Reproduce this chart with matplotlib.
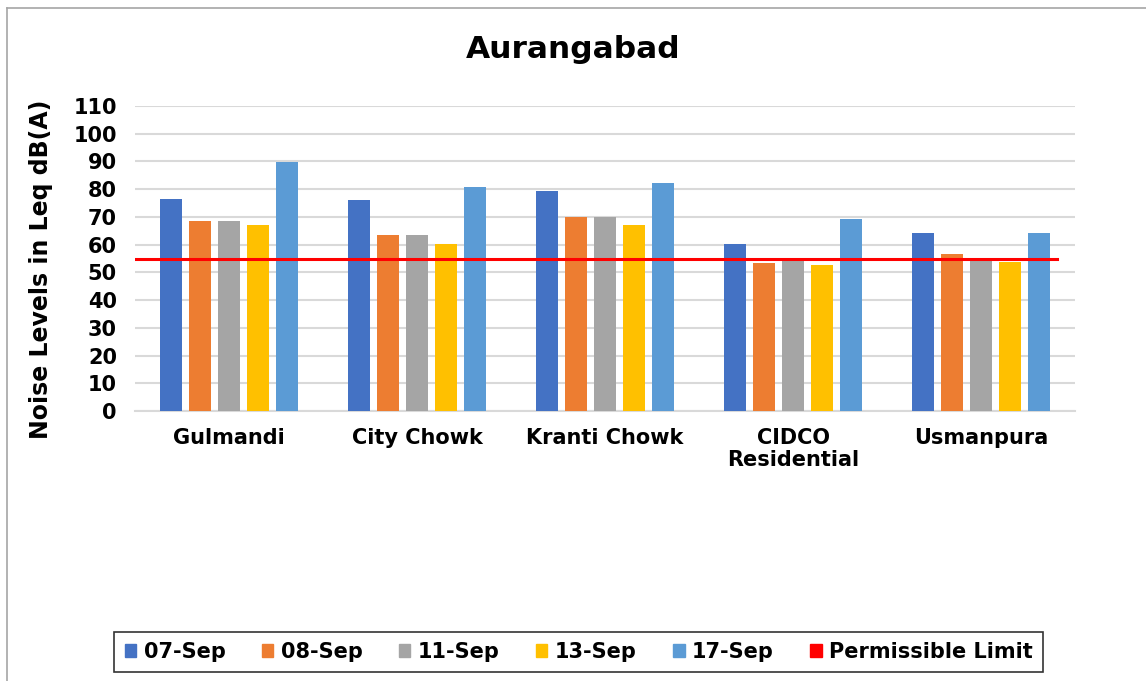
import matplotlib
matplotlib.use('Agg')
import matplotlib.pyplot as plt
from matplotlib.patches import Patch
from matplotlib.lines import Line2D
import numpy as np

locations = ['Gulmandi', 'City Chowk', 'Kranti Chowk', 'CIDCO\nResidential', 'Usmanpura']
dates = ['07-Sep', '08-Sep', '11-Sep', '13-Sep', '17-Sep']
values = {
    '07-Sep': [76.5, 76.0, 79.5, 60.1, 64.3],
    '08-Sep': [68.4, 63.6, 70.1, 53.5, 56.5],
    '11-Sep': [68.4, 63.6, 70.1, 55.0, 55.0],
    '13-Sep': [67.2, 60.4, 67.0, 52.6, 53.8],
    '17-Sep': [89.7, 80.9, 82.1, 69.3, 64.3],
}
limit = 55
colors = ['#4472C4', '#ED7D31', '#A5A5A5', '#FFC000', '#5B9BD5']

plt.rcParams['font.family'] = 'DejaVu Sans'
plt.rcParams['font.weight'] = 'bold'

fig = plt.figure(figsize=(11.46, 6.81), dpi=100)
ax = fig.add_axes([0.1178, 0.3965, 0.8203, 0.4478])

x = np.arange(len(locations))
w = 0.117
step = 0.154
for i, d in enumerate(dates):
    ax.bar(x + (i - 2) * step, values[d], width=w, color=colors[i],
           linewidth=0, zorder=3, label=d)

ax.axhline(limit, xmin=0, xmax=0.981, color='#FF0000', linewidth=2.2, zorder=4)

ax.set_xlim(-0.5, len(locations) - 0.5)
ax.set_ylim(0, 110)
ax.set_yticks(np.arange(0, 111, 10))
ax.yaxis.grid(True, color='#D9D9D9', linewidth=1.5, zorder=0)
for s in ['top', 'right', 'left']:
    ax.spines[s].set_visible(False)
ax.spines['bottom'].set_color('#D9D9D9')
ax.spines['bottom'].set_linewidth(1.5)
ax.tick_params(axis='both', length=0, labelsize=15)
ax.tick_params(axis='y', pad=13)
ax.tick_params(axis='x', pad=12)
ax.set_xticks(x)
ax.set_xticklabels(locations, fontweight='bold', linespacing=1.15)

fig.text(0.036, 0.604, 'Noise Levels in Leq dB(A)', rotation=90, ha='center', va='center',
         fontsize=17, fontweight='bold')
fig.text(0.5, 0.927, 'Aurangabad', ha='center', va='center', fontsize=22.5, fontweight='bold')

handles = [Patch(color=c) for c in colors] + [Patch(color='#FF0000')]
leg = fig.legend(handles, dates + ['Permissible Limit'], loc='center',
                 bbox_to_anchor=(0.505, 0.0425), ncol=6, fontsize=15,
                 frameon=True, fancybox=False, handlelength=0.55, handleheight=0.55,
                 handletextpad=0.35, columnspacing=1.75, borderpad=0.5)
leg.get_frame().set_edgecolor('black')
leg.get_frame().set_linewidth(1.2)

# outer chart border (top and left visible)
fig.add_artist(Line2D([0.0065, 0.0065], [0, 0.988], transform=fig.transFigure,
                      color='#A6A6A6', linewidth=1.2))
fig.add_artist(Line2D([0.0065, 1.0], [0.988, 0.988], transform=fig.transFigure,
                      color='#A6A6A6', linewidth=1.2))

fig.savefig('out.png', dpi=100)
